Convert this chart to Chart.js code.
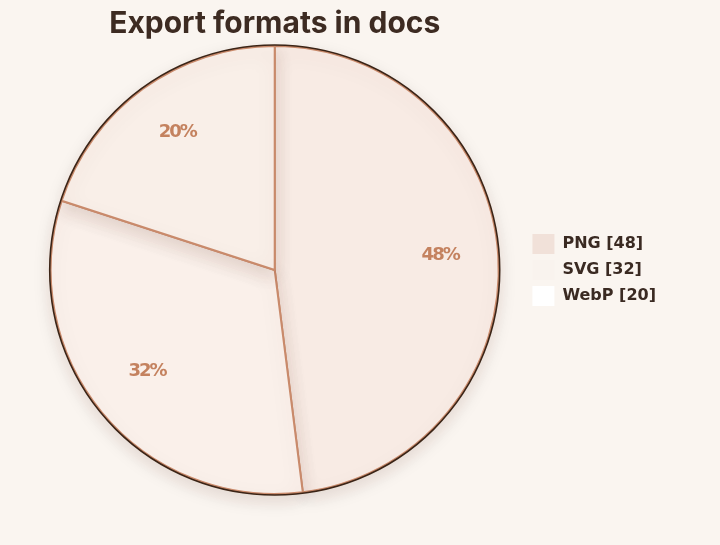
<!DOCTYPE html>
<html>
<head>
<meta charset="utf-8">
<script src="https://cdn.jsdelivr.net/npm/chart.js@4.4.0/dist/chart.umd.min.js"></script>
<style>
  html, body { margin: 0; padding: 0; background: #faf5f0; }
  #wrap { width: 720px; height: 545px; }
</style>
</head>
<body>
<div id="wrap"><canvas id="formats-pie"></canvas></div>
<script>
    "use strict";

    // Data
    var formats = ["PNG", "SVG", "WebP"];
    var counts = [48, 32, 20];
    var sliceColors = ["#f8ebe4", "#faf0ea", "#f9efe8"];
    var legendColors = ["#f1e1d9", "#f9f3ee", "#ffffff"];

    var total = counts.reduce(function (a, b) { return a + b; }, 0);

    // Soft shadow under the slices
    var shadowPlugin = {
        id: "sliceShadow",
        beforeDatasetDraw: function (chart) {
            var ctx = chart.ctx;
            ctx.save();
            ctx.shadowColor = "rgba(90, 50, 30, 0.15)";
            ctx.shadowBlur = 18;
            ctx.shadowOffsetY = 6;
        },
        afterDatasetDraw: function (chart) {
            chart.ctx.restore();
        }
    };

    // Dark outer ring + percentage labels
    var labelPlugin = {
        id: "pctLabels",
        afterDatasetsDraw: function (chart) {
            var ctx = chart.ctx;
            var arcs = chart.getDatasetMeta(0).data;
            if (!arcs.length) return;
            var a0 = arcs[0];
            ctx.save();
            ctx.beginPath();
            ctx.arc(a0.x, a0.y, a0.outerRadius + 1, 0, Math.PI * 2);
            ctx.strokeStyle = "#3b2416";
            ctx.lineWidth = 1.6;
            ctx.stroke();

            ctx.fillStyle = "#c4825f";
            ctx.font = "bold 18px 'DejaVu Sans'";
            ctx.textAlign = "center";
            ctx.textBaseline = "middle";
            if ("letterSpacing" in ctx) ctx.letterSpacing = "-2px";
            arcs.forEach(function (arc, i) {
                var mid = (arc.startAngle + arc.endAngle) / 2;
                var r = arc.outerRadius * 0.74;
                var x = arc.x + Math.cos(mid) * r;
                var y = arc.y + Math.sin(mid) * r;
                ctx.fillText(Math.round(counts[i] / total * 100) + "%", x, y - 4);
            });
            ctx.restore();
        }
    };

    var ctx1 = document.getElementById("formats-pie").getContext("2d");
    var myChart1 = new Chart(ctx1, {
        type: "pie",
        data: {
            labels: formats,
            datasets: [{
                data: counts,
                backgroundColor: sliceColors,
                borderColor: "#c98a6b",
                borderWidth: 2
            }]
        },
        options: {
            responsive: true,
            maintainAspectRatio: false,
            animation: false,
            layout: {
                padding: { left: 23, right: 54, top: 0, bottom: 50 }
            },
            plugins: {
                title: {
                    display: true,
                    text: "Export formats in docs",
                    fullSize: false,
                    color: "#3d2b22",
                    font: { family: "Inter", size: 30, weight: "bold" },
                    padding: { top: 6, bottom: 3 }
                },
                legend: {
                    position: "right",
                    fullSize: false,
                    labels: {
                        boxWidth: 22,
                        boxHeight: 20,
                        padding: 6,
                        color: "#3a2a22",
                        font: { family: "DejaVu Sans", size: 16, weight: "bold" },
                        generateLabels: function (chart) {
                            return formats.map(function (f, i) {
                                return {
                                    text: f + " [" + counts[i] + "]",
                                    fillStyle: legendColors[i],
                                    strokeStyle: legendColors[i],
                                    lineWidth: 0,
                                    fontColor: "#3a2a22",
                                    hidden: false,
                                    index: i
                                };
                            });
                        }
                    }
                },
                tooltip: { enabled: false }
            }
        },
        plugins: [shadowPlugin, labelPlugin]
    });
</script>
</body>
</html>
